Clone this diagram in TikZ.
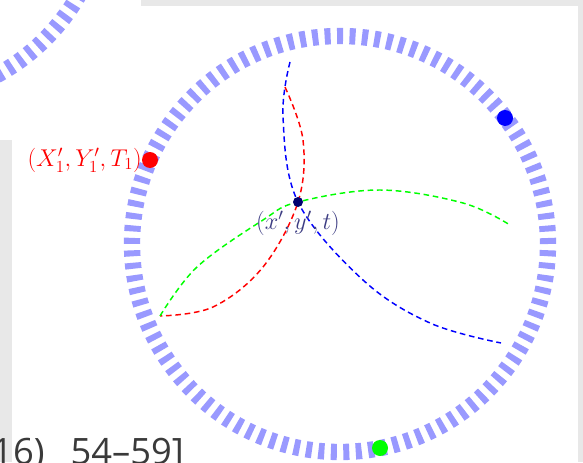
\documentclass[tikz,border=0pt]{standalone}
\usepackage{fontspec}
\setsansfont{Open Sans}
\usetikzlibrary{calc}
\definecolor{ringblue}{HTML}{9999FF}
\definecolor{pagegray}{HTML}{E8E8E8}
\definecolor{ptnavy}{HTML}{000070}
\definecolor{lblnavy}{HTML}{3C3C82}
\definecolor{geogreen}{HTML}{00FF00}
\definecolor{reftext}{HTML}{3A3A3A}
\tikzset{
  ring/.style    = {draw=ringblue, line width=0.49cm,
                     dash pattern=on 0.18cm off 0.1935cm},
  geo/.style     = {line width=1.25pt, dash pattern=on 4.8pt off 3.2pt},
  ptdot/.style   = {radius=8},
  ptlbl/.style   = {font=\fontsize{21}{25}\selectfont, inner sep=0pt},
  reflbl/.style  = {font=\sffamily\fontsize{31}{36}\selectfont, text=reftext,
                     inner sep=0pt, anchor=base west},
}

\begin{document}
\begin{tikzpicture}[x=0.03cm, y=0.03cm]
        % page background with the two white panes
        \fill[pagegray] (0,0) rectangle (583,462);
        \fill[white] (12,0) rectangle (578,456);
        \fill[white] (0,322) rectangle (141,462);
        \useasboundingbox (0,0) rectangle (583,462);

        % previous ring, cut off at the top left
        \begin{scope}
          \clip (0,322) rectangle (141,462);
          \draw[ring] (-102,570) circle[radius=208];
        \end{scope}

        % main ring
        \coordinate (ctr) at (340,218);
        \draw[ring] (ctr) circle[radius=208];

        % points
        \coordinate (P)  at (298,260);
        \coordinate (pR) at (150,302);
        \coordinate (pB) at (505,344);
        \coordinate (pG) at (380,14);

        % curve ends
        \coordinate (bTop) at (290,400);
        \coordinate (bEnd) at (501,119);
        \coordinate (rTop) at (285,375);
        \coordinate (rEnd) at (160,146);
        \coordinate (gEnd) at (510,237);

        \draw[geo, blue] plot[smooth, tension=0.6] coordinates
             {(bTop) (283,345) (P) (363,182) (430,139) (bEnd)};
        \draw[geo, red] plot[smooth, tension=0.6] coordinates
             {(rTop) (303,322) (P) (263,195) (213,155) (rEnd)};
        \draw[geo, geogreen] plot[smooth, tension=0.6] coordinates
             {(rEnd) (197,195) (263,242) (P) (380,272) (463,259) (gEnd)};

        \fill[red] (pR) circle[ptdot];
        \fill[blue] (pB) circle[ptdot];
        \fill[geogreen] (pG) circle[ptdot];
        \fill[ptnavy] (P) circle[radius=5];

        \node[ptlbl, text=red, anchor=east] (lblR) at (142,302)
             {$(X_1',Y_1',T_1)$};
        \node[ptlbl, text=lblnavy] (lblP) at (298,239) {$(x',y',t)$};

        \node[reflbl] (refline) at (-8,-2) {16)\hspace{0.72em}54--59]};
    \end{tikzpicture}
\end{document}
